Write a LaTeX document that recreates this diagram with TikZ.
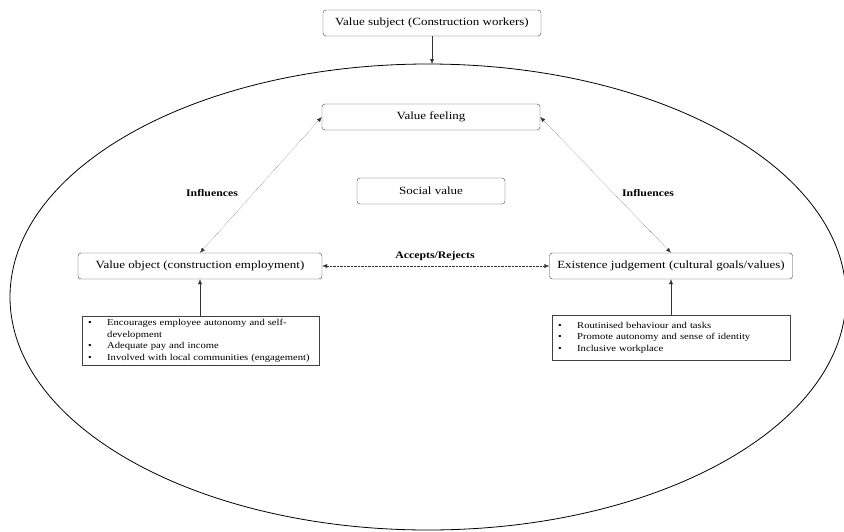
\documentclass[tikz,border=0pt]{standalone}
\usepackage{fontspec}
\setmainfont[FakeStretch=1.18]{Liberation Serif}
\usetikzlibrary{arrows.meta}

\newcommand{\bitem}[1]{\makebox[19pt][l]{\textbullet}#1}

\begin{document}
\begin{tikzpicture}[x=1pt,y=-1pt,
  rbox/.style={draw=black!75,rounded corners=3pt,inner sep=0pt,minimum height=26pt,
    font=\fontsize{11}{12}\selectfont},
  lbox/.style={draw=black!75,anchor=north west,align=left,inner xsep=6pt,inner ysep=3pt,
    font=\fontsize{9}{11.5}\selectfont},
  lbl/.style={font=\fontsize{10}{12}\selectfont\bfseries},
  dotarr/.style={densely dotted,black!80,{Latex[length=5pt,width=4pt]}-{Latex[length=5pt,width=4pt]}},
  solarr/.style={black!80,-{Latex[length=5pt,width=4pt]}}]
\useasboundingbox (0,0) rectangle (844,531);

\node[rbox,minimum width=218pt] (vsubject) at (432,23) {Value subject (Construction workers)};
\draw[thick] (428,297) ellipse [x radius=418pt,y radius=233pt];
\coordinate (etop) at (432,64);
\draw[solarr] (vsubject) -- (etop);

\node[rbox,minimum width=218pt] (vfeeling) at (431,117) {Value feeling};
\node[rbox,minimum width=148pt] (svalue) at (431,191) {Social value};
\node[rbox,minimum width=244pt] (vobject) at (200,266) {Value object (construction employment)};
\node[rbox,minimum width=243pt] (exjudge) at (671,266) {Existence judgement (cultural goals/values)};

\draw[dotarr] (vfeeling.west) -- (vobject.north);
\draw[dotarr] (vfeeling.east) -- (exjudge.north);
\draw[dotarr] (vobject) -- (exjudge);

\node[lbl] (infl) at (212,193) {Influences};
\node[lbl] (infr) at (648,193) {Influences};
\node[lbl] (accrej) at (435,256) {Accepts/Rejects};

\node[lbox,text width=225pt,minimum height=47pt] (objlist) at (82,316)
 {\bitem{Encourages employee autonomy and self-}\\
  \hspace*{19pt}development\\
  \bitem{Adequate pay and income}\\
  \bitem{Involved with local communities (engagement)}};
\node[lbox,text width=226pt,minimum height=45pt] (exlist) at (552,315)
 {\bitem{Routinised behaviour and tasks}\\
  \bitem{Promote autonomy and sense of identity}\\
  \bitem{Inclusive workplace}};

\draw[solarr] (objlist.north -| vobject) -- (vobject);
\draw[solarr] (exlist.north -| exjudge) -- (exjudge);

\end{tikzpicture}
\end{document}
